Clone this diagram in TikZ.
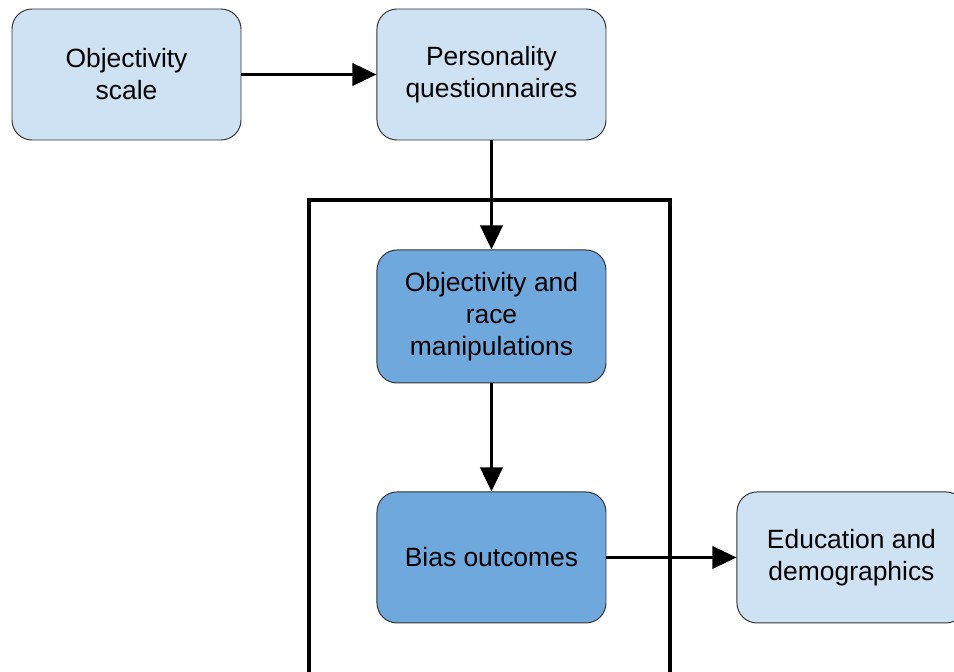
\documentclass[tikz,border=0pt]{standalone}
\usepackage{fontspec}
\setmainfont{Liberation Sans}
\usepackage{tikz}
\usetikzlibrary{shapes,arrows.meta,calc,positioning}
\definecolor{lightblue}{HTML}{CFE2F3}
\definecolor{midblue}{HTML}{6FA8DC}
\definecolor{edgegrey}{HTML}{333333}
\tikzset{box/.style={draw=edgegrey, line width=0.7pt, rounded corners=0.5cm, align=center,
  minimum width=5.725cm, minimum height=3.275cm, inner sep=2pt,
  font=\fontsize{18.8}{22.7}\selectfont}}
\tikzset{lightbox/.style={box, fill=lightblue}}
\tikzset{darkbox/.style={box, fill=midblue}}

\begin{document}
\begin{tikzpicture}[>={Triangle[length=0.6cm,width=0.55cm]}, line width=2.6pt]
\useasboundingbox (0,0) rectangle (23.85,-16.775);
\clip (0,0) rectangle (23.85,-16.775);
\node[lightbox] at (3.1625,-1.8625) (S0){Objectivity\\scale};
\node[lightbox][right=3.375cm of S0] (S1){Personality\\questionnaires};
\node[darkbox, minimum height=3.325cm][below=2.725cm of S1] (S2){Objectivity and\\race\\manipulations};
\node[darkbox][below=2.7cm of S2] (S3){Bias outcomes};
\node[lightbox][right=3.25cm of S3] (S4){Education and\\demographics};
% frame round the manipulation part
\draw (7.72,-17.2) -- (7.72,-5.0) -- (16.75,-5.0) -- (16.75,-17.2);
\path[->] (S0) edge (S1)
	(S1) edge (S2)
	(S2) edge (S3)
	(S3) edge (S4);
\end{tikzpicture}
\end{document}
